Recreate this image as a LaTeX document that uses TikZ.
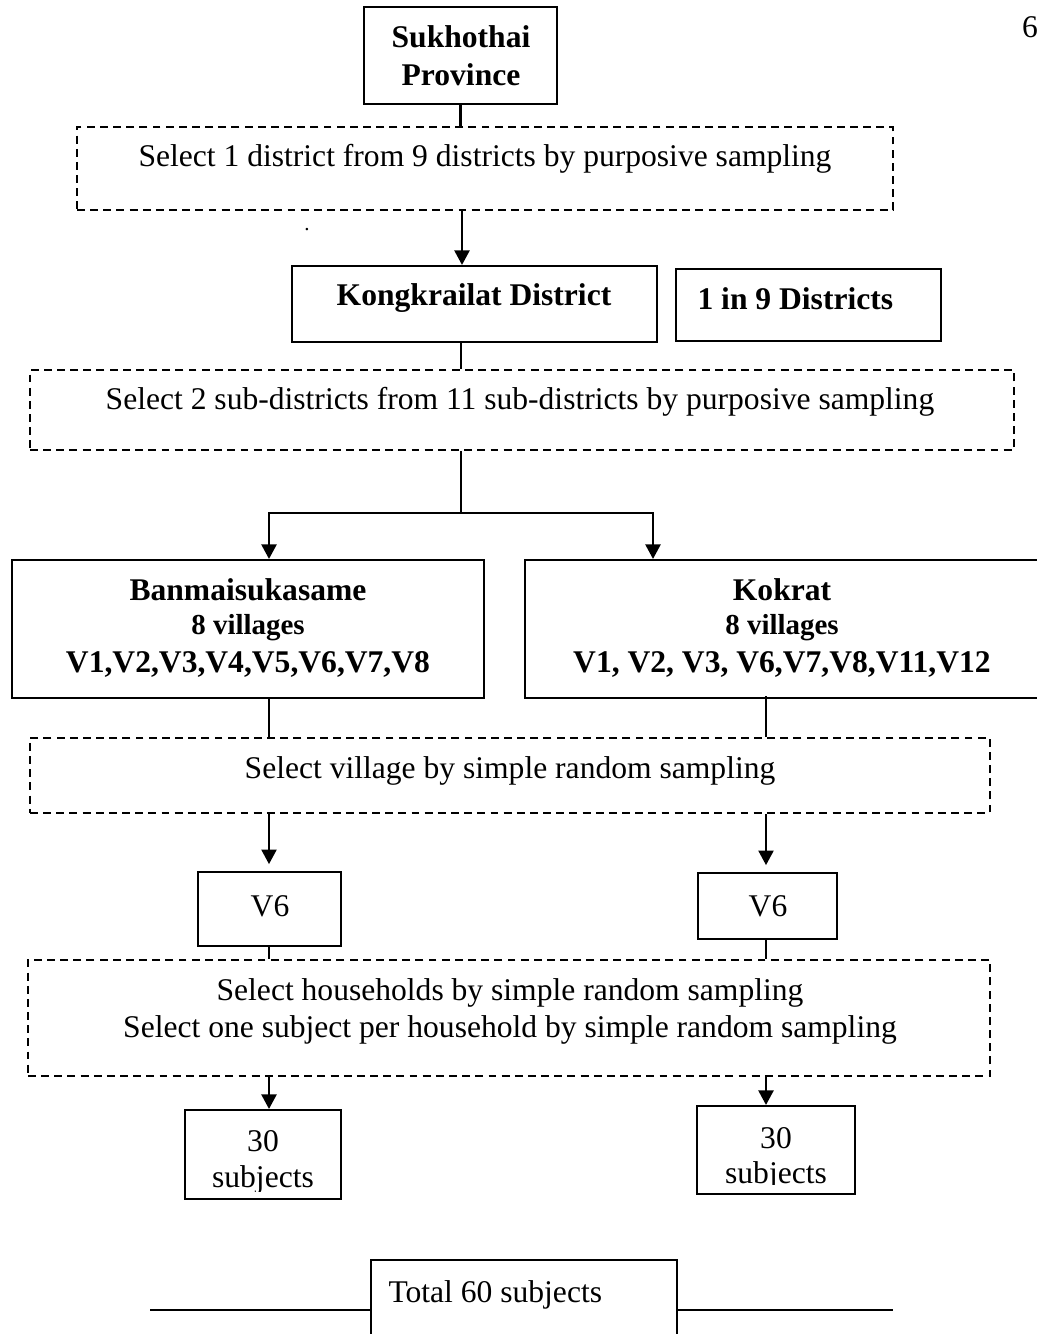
\documentclass[tikz,border=0pt]{standalone}
\usepackage{fontspec}
\setmainfont{Liberation Serif}
\usetikzlibrary{arrows.meta,fit}
\begin{document}
\begin{tikzpicture}[x=0.38pt,y=-0.38pt,
  box/.style={draw, line width=0.8pt, inner sep=0pt},
  dbox/.style={draw, line width=0.6pt, dash pattern=on 3pt off 2pt, inner sep=0pt},
  conn/.style={line width=0.8pt},
  arr/.style={conn, -{Triangle[width=5.7pt,length=5.5pt]}},
  txt/.style={anchor=base, inner sep=0pt, font=\fontsize{12}{14}\selectfont},
  btxt/.style={anchor=base, inner sep=0pt, font=\fontsize{12}{14}\selectfont\bfseries},
  stxt/.style={anchor=base, inner sep=0pt, font=\fontsize{11}{13}\selectfont\bfseries}]
\useasboundingbox (0,0) rectangle (1037,1334);

% page number and stray dot
\node[txt] (pg) at (1030,38) {6};
\node[anchor=base, inner sep=0pt, font=\fontsize{8}{9}\selectfont] (dot) at (307,231) {.};

% boxes
\node[box, fit={(364,7) (557,104)}] (prov) {};
\node[btxt] (provt1) at (461,48) {Sukhothai};
\node[btxt] (provt2) at (461,86) {Province};

\node[dbox, fit={(77,127) (893,210)}] (d1) {};
\node[txt] (d1t) at (485,167) {Select 1 district from 9 districts by purposive sampling};

\node[box, fit={(292,266) (657,342)}] (kong) {};
\node[btxt] (kongt) at (474,306) {Kongkrailat District};

\node[box, fit={(676,269) (941,341)}] (onein) {};
\node[btxt, anchor=base west] (oneint) at (697,310) {1 in 9 Districts};

\node[dbox, fit={(30,370) (1014,450)}] (d2) {};
\node[txt] (d2t) at (520,410) {Select 2 sub-districts from 11 sub-districts by purposive sampling};

\node[box, fit={(12,560) (484,698)}] (ban) {};
\node[btxt] (bant1) at (248,600) {Banmaisukasame};
\node[stxt] (bant2) at (248,634) {8 villages};
\node[btxt] (bant3) at (248,672) {V1,V2,V3,V4,V5,V6,V7,V8};

\node[box, fit={(525,560) (1045,698)}] (kok) {};
\node[btxt] (kokt1) at (782,600) {Kokrat};
\node[stxt] (kokt2) at (782,634) {8 villages};
\node[btxt] (kokt3) at (782,672) {V1, V2, V3, V6,V7,V8,V11,V12};

\node[dbox, fit={(30,738) (990,813)}] (d3) {};
\node[txt] (d3t) at (510,778) {Select village by simple random sampling};

\node[box, fit={(198,872) (341,946)}] (v6l) {};
\node[txt] (v6lt) at (270,916) {V6};
\node[box, fit={(698,873) (837,939)}] (v6r) {};
\node[txt] (v6rt) at (768,916) {V6};

\node[dbox, fit={(28,960) (990,1076)}] (d4) {};
\node[txt] (d4t1) at (510,1000) {Select households by simple random sampling};
\node[txt] (d4t2) at (510,1037) {Select one subject per household by simple random sampling};

\node[box, fit={(185,1110) (341,1199)}] (sl) {};
\node[txt] (slt1) at (263,1151) {30};
\begin{scope}
  \clip (185,1160) rectangle (341,1191);
  \node[txt] (slt2) at (263,1187) {subjects};
\end{scope}
\node[box, fit={(697,1106) (855,1194)}] (sr) {};
\node[txt] (srt1) at (776,1148) {30};
\begin{scope}
  \clip (697,1155) rectangle (855,1184);
  \node[txt] (srt2) at (776,1183) {subjects};
\end{scope}

\node[box, fit={(371,1260) (677,1345)}] (tot) {};
\node[txt, anchor=base west] (tott) at (388,1302) {Total 60 subjects};

% spine coordinates
\coordinate (xa) at (462,0);
\coordinate (xb) at (461,0);
\coordinate (xl) at (269,0);
\coordinate (xr) at (653,0);
\coordinate (xk) at (766,0);
\coordinate (br) at (0,513);
\coordinate (tl) at (150,1310);
\coordinate (tr) at (893,1310);

% connectors
\draw[conn] (prov.south) -- (prov.south |- d1.north);
\draw[arr] (xa |- d1.south) -- (xa |- kong.north);
\draw[conn] (xb |- kong.south) -- (xb |- d2.north);
\draw[conn] (xb |- d2.south) -- (xb |- br);
\draw[arr] (xb |- br) -| (xl |- ban.north);
\draw[arr] (xb |- br) -| (xr |- kok.north);
\draw[conn] (xl |- ban.south) -- (xl |- d3.north);
\draw[conn] ([yshift=1pt]xk |- kok.south) -- (xk |- d3.north);
\draw[arr, shorten >=2.6pt] (xl |- d3.south) -- (xl |- v6l.north);
\draw[arr, shorten >=2.6pt] (xk |- d3.south) -- (xk |- v6r.north);
\draw[conn] (xl |- v6l.south) -- (xl |- d4.north);
\draw[conn] (xk |- v6r.south) -- (xk |- d4.north);
\draw[arr] (xl |- d4.south) -- (xl |- sl.north);
\draw[arr] (xk |- d4.south) -- (xk |- sr.north);
\draw[conn] (tl) -- (tl -| tot.west);
\draw[conn] (tot.east |- tr) -- (tr);
\end{tikzpicture}
\end{document}
